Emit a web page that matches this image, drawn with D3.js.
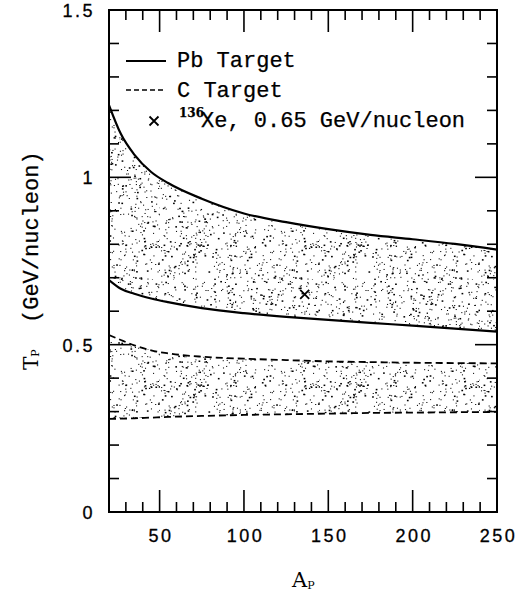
<!DOCTYPE html>
<html lang="en">
<head>
    <meta charset="UTF-8">
    <title>Tp vs Ap</title>
    <script src="https://d3js.org/d3.v7.min.js"></script>
    <style>
        body { margin: 0; background: white; }
        svg { display: block; }
        .mono { font-family: "Liberation Mono", monospace; font-size: 22px; stroke: #000; stroke-width: 0.25px; }
        .num { font-family: "Liberation Sans", Arial, sans-serif; font-size: 18px; letter-spacing: 2.5px; stroke: #000; stroke-width: 0.3px; }
        .serif { font-family: "DejaVu Serif", serif; }
    </style>
</head>
<body>
<div id="chart"></div>
<script>
    // values
    const massA = [20, 27, 35, 45, 55, 75, 100, 125, 150, 175, 200, 225, 250];
    const pbHigh = [1.216, 1.13, 1.068, 1.016, 0.983, 0.936, 0.892, 0.866, 0.845, 0.828, 0.815, 0.801, 0.784];
    const pbLow  = [0.693, 0.667, 0.652, 0.638, 0.627, 0.609, 0.594, 0.583, 0.574, 0.565, 0.557, 0.548, 0.539];
    const cHigh  = [0.529, 0.514, 0.498, 0.483, 0.474, 0.464, 0.458, 0.454, 0.450, 0.448, 0.446, 0.445, 0.444];
    const cLow   = [0.278, 0.279, 0.280, 0.282, 0.284, 0.287, 0.290, 0.292, 0.294, 0.296, 0.297, 0.298, 0.299];
    const xePoint = { a: 136, t: 0.65 };
    const xTicks = [50, 100, 150, 200, 250];
    const yTicks = [0, 0.5, 1, 1.5];

    const width = 525, height = 594;
    const margin = { left: 109, right: 28, top: 10, bottom: 82 };

    const svg = d3.select("#chart").append("svg")
        .attr("width", width)
        .attr("height", height);

    const x = d3.scaleLinear().domain([20, 250]).range([margin.left, width - margin.right]);
    const y = d3.scaleLinear().domain([0, 1.5]).range([height - margin.bottom, margin.top]);

    // stipple texture (fixed seed so it looks the same every time)
    const defs = svg.append("defs");
    const tileW = 160, tileH = 140;
    const pat = defs.append("pattern")
        .attr("id", "dots")
        .attr("patternUnits", "userSpaceOnUse")
        .attr("width", tileW).attr("height", tileH);
    let seed = 987654321;
    function rnd() {
        seed |= 0; seed = seed + 0x6D2B79F5 | 0;
        let t = Math.imul(seed ^ seed >>> 15, 1 | seed);
        t = t + Math.imul(t ^ t >>> 7, 61 | t) ^ t;
        return ((t ^ t >>> 14) >>> 0) / 4294967296;
    }
    for (let i = 0; i < 1000; i++) {
        const big = rnd() < 0.22;
        pat.append("rect")
            .attr("x", rnd() * tileW).attr("y", rnd() * tileH)
            .attr("width", big ? 1.7 : 1.1).attr("height", big ? 1.5 : 1)
            .attr("fill", "#000");
    }
    defs.append("clipPath").attr("id", "frame")
        .append("rect")
        .attr("x", x(20)).attr("y", y(1.5))
        .attr("width", x(250) - x(20)).attr("height", y(0) - y(1.5));

    const plot = svg.append("g").attr("clip-path", "url(#frame)");

    function band(hi, lo) {
        return d3.area()
            .x((d, i) => x(massA[i]))
            .y0((d, i) => y(lo[i]))
            .y1((d, i) => y(hi[i]))
            .curve(d3.curveMonotoneX)(massA);
    }
    function curve(vals) {
        return d3.line()
            .x((d, i) => x(massA[i]))
            .y((d, i) => y(vals[i]))
            .curve(d3.curveMonotoneX)(massA);
    }

    plot.append("path").attr("d", band(pbHigh, pbLow)).attr("fill", "url(#dots)");
    plot.append("path").attr("d", band(cHigh, cLow)).attr("fill", "url(#dots)");

    [pbHigh, pbLow].forEach(v => plot.append("path").attr("d", curve(v))
        .attr("fill", "none").attr("stroke", "#000").attr("stroke-width", 2.2));
    [cHigh, cLow].forEach(v => plot.append("path").attr("d", curve(v))
        .attr("fill", "none").attr("stroke", "#000").attr("stroke-width", 1.8)
        .attr("stroke-dasharray", "7,4"));

    function cross(g, cx, cy, r) {
        g.append("path")
            .attr("d", `M${cx - r},${cy - r}L${cx + r},${cy + r}M${cx - r},${cy + r}L${cx + r},${cy - r}`)
            .attr("stroke", "#000").attr("stroke-width", 1.8);
    }
    cross(plot, x(xePoint.a), y(xePoint.t), 4.5);

    // axes
    const axes = svg.append("g");
    const bottom = d3.axisBottom(x).tickValues(xTicks).tickFormat(d3.format("d")).tickSize(0).tickPadding(0);
    axes.append("g").attr("transform", `translate(0,${y(0)})`).call(bottom)
        .call(g => g.select(".domain").remove())
        .selectAll("text").attr("class", "num").attr("font-family", null).attr("font-size", null)
        .attr("dy", null).attr("y", 30).attr("dx", 1).attr("fill", "#000");
    const left = d3.axisLeft(y).tickValues(yTicks).tickFormat(d => d).tickSize(0).tickPadding(0);
    axes.append("g").attr("transform", `translate(${x(20)},0)`).call(left)
        .call(g => g.select(".domain").remove())
        .selectAll("text").attr("class", "num").attr("font-family", null).attr("font-size", null)
        .attr("x", -14).attr("dy", "0.36em").attr("fill", "#000");

    // tick marks on all four sides
    const xMinor = d3.range(30, 250, 10);
    const yMinor = d3.range(1, 15).map(d => d / 10);
    const tk = axes.append("g").attr("stroke", "#000").attr("stroke-width", 1.6);
    xMinor.forEach(v => {
        const len = v % 50 === 0 ? 22 : 10;
        tk.append("line").attr("x1", x(v)).attr("x2", x(v)).attr("y1", y(0)).attr("y2", y(0) - len);
        tk.append("line").attr("x1", x(v)).attr("x2", x(v)).attr("y1", y(1.5)).attr("y2", y(1.5) + len);
    });
    yMinor.forEach(v => {
        const len = Math.abs(v * 2 - Math.round(v * 2)) < 1e-6 ? 22 : 10;
        tk.append("line").attr("x1", x(20)).attr("x2", x(20) + len).attr("y1", y(v)).attr("y2", y(v));
        tk.append("line").attr("x1", x(250)).attr("x2", x(250) - len).attr("y1", y(v)).attr("y2", y(v));
    });
    axes.append("rect")
        .attr("x", x(20)).attr("y", y(1.5))
        .attr("width", x(250) - x(20)).attr("height", y(0) - y(1.5))
        .attr("fill", "none").attr("stroke", "#000").attr("stroke-width", 2);

    // axis titles
    const xl = svg.append("text").attr("class", "serif").attr("x", 292).attr("y", 587).attr("font-size", 21);
    xl.append("tspan").text("A");
    xl.append("tspan").attr("font-size", 11).attr("dy", 2).text("P");

    const yl = svg.append("text").attr("transform", "rotate(-90)")
        .attr("x", -370).attr("y", 38);
    yl.append("tspan").attr("class", "serif").attr("font-size", 20).text("T");
    yl.append("tspan").attr("class", "serif").attr("font-size", 11).attr("dy", 1).text("P");
    yl.append("tspan").attr("class", "mono").attr("font-size", 21).attr("dy", -1).attr("x", -323).text("(GeV/nucleon)");

    // legend
    const lg = svg.append("g");
    lg.append("line").attr("x1", 126).attr("x2", 166).attr("y1", 61).attr("y2", 61)
        .attr("stroke", "#000").attr("stroke-width", 2.2);
    lg.append("line").attr("x1", 126).attr("x2", 166).attr("y1", 90).attr("y2", 90)
        .attr("stroke", "#000").attr("stroke-width", 1.6).attr("stroke-dasharray", "5,3");
    cross(lg, 154, 121, 4.5);
    lg.append("text").attr("class", "mono").attr("x", 177).attr("y", 67).text("Pb Target");
    lg.append("text").attr("class", "mono").attr("x", 177).attr("y", 97).text("C Target");
    const xe = lg.append("text").attr("class", "mono").attr("x", 179).attr("y", 127);
    xe.append("tspan").attr("font-size", 12).attr("dy", -10).attr("class", "serif").attr("font-weight", "bold").text("136");
    xe.append("tspan").attr("x", 201).attr("dy", 10).text("Xe, 0.65 GeV/nucleon");
</script>
</body>
</html>
